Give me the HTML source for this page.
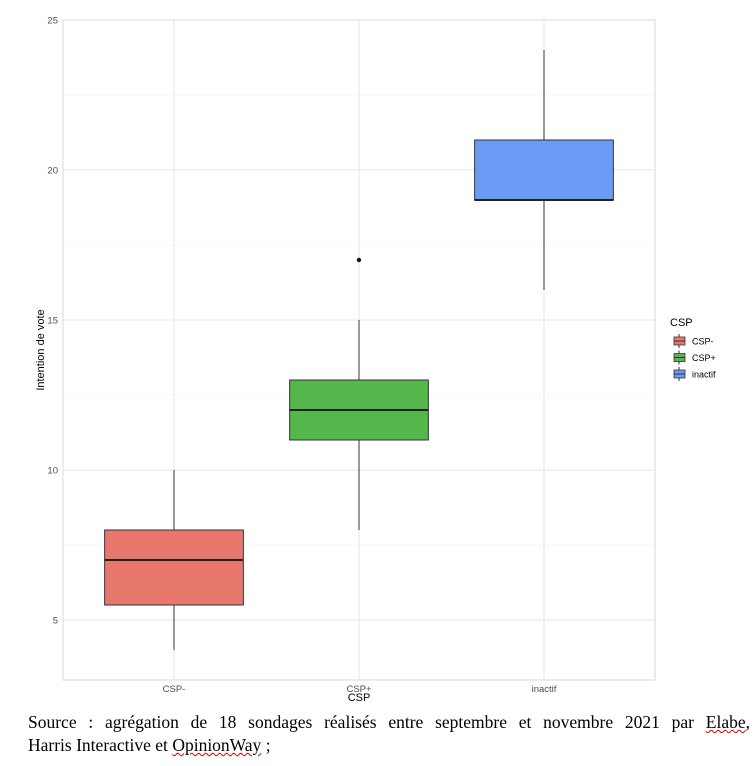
<!DOCTYPE html>
<html><head><meta charset="utf-8"><style>
body{margin:0;background:#fff;width:754px;height:766px;overflow:hidden}
svg{position:absolute;left:0;top:0}
.cap{position:absolute;left:28px;width:722px;font-family:"Liberation Serif",serif;font-size:17.5px;line-height:23px;color:#000;white-space:nowrap}
.l1{top:711px;text-align:justify;text-align-last:justify}
.l2{top:734px}
.sq{text-decoration:underline wavy #d00;text-decoration-thickness:1px}
</style></head><body>
<svg width="754" height="766" id="chart"></svg>
<div class="cap l1">Source : agrégation de 18 sondages réalisés entre septembre et novembre 2021 par <span class="sq">Elabe</span>,</div>
<div class="cap l2">Harris Interactive et <span class="sq">OpinionWay</span> ;</div>
<script>
const categories=["CSP-","CSP+","inactif"];
const lowWhisker=[4,8,16];
const q1=[5.5,11,19];
const median=[7,12,19];
const q3=[8,13,21];
const highWhisker=[10,15,24];
const outliers=[[],[17],[]];
const colors=["#E8786E","#53B74C","#6A9CF7"];
const yTicks=[5,10,15,20,25];
const NS="http://www.w3.org/2000/svg";
const svg=document.getElementById('chart');
const L=63,R=655,T=20,B=680,ymin=3,ymax=25;
const y=v=>T+(ymax-v)*(B-T)/(ymax-ymin);
const unit=(R-L)/(categories.length-1+1.2);
const x=i=>L+unit*(i+0.6);
const bw=unit*0.75;
function el(t,a,p){const e=document.createElementNS(NS,t);for(const k in a)e.setAttribute(k,a[k]);(p||svg).appendChild(e);return e;}
for(let v=7.5;v<25;v+=5){const g=el('line',{x1:L,x2:R,y1:y(v),y2:y(v),stroke:'#f0f0f0','stroke-width':0.6});

}
yTicks.forEach(v=>{const g=el('line',{x1:L,x2:R,y1:y(v),y2:y(v),stroke:'#e6e6e6','stroke-width':1});


const t=el('text',{x:L-5,y:y(v)+3.5,'text-anchor':'end','font-size':9.5,fill:'#4d4d4d','font-family':'Liberation Sans,sans-serif'});t.textContent=v;

});
categories.forEach((c,i)=>{const g=el('line',{x1:x(i),x2:x(i),y1:T,y2:B,stroke:'#e6e6e6','stroke-width':1});


const t=el('text',{x:x(i),y:B+12,'text-anchor':'middle','font-size':9.5,fill:'#4d4d4d','font-family':'Liberation Sans,sans-serif'});t.textContent=c;

});
const fr=el('rect',{x:L,y:T,width:R-L,height:B-T,fill:'none',stroke:'#d9d9d9','stroke-width':1});


categories.forEach((c,i)=>{
const g=el('g',{});


el('line',{x1:x(i),x2:x(i),y1:y(highWhisker[i]),y2:y(lowWhisker[i]),stroke:'#333','stroke-width':1},g);
el('rect',{x:x(i)-bw/2,y:y(q3[i]),width:bw,height:y(q1[i])-y(q3[i]),fill:colors[i],stroke:'#333','stroke-width':1},g);
el('line',{x1:x(i)-bw/2,x2:x(i)+bw/2,y1:y(median[i]),y2:y(median[i]),stroke:'#222','stroke-width':2},g);
outliers[i].forEach(o=>{const p=el('circle',{cx:x(i),cy:y(o),r:2.2,fill:'#111'},g);

});
});
const xt=el('text',{x:(L+R)/2,y:B+21,'text-anchor':'middle','font-size':11,fill:'#000','font-family':'Liberation Sans,sans-serif'});xt.textContent='CSP';


const yt=el('text',{x:0,y:0,transform:`translate(44,${(T+B)/2}) rotate(-90)`,'text-anchor':'middle','font-size':11,fill:'#000','font-family':'Liberation Sans,sans-serif'});yt.textContent='Intention de vote';


const lt=el('text',{x:670,y:326,'font-size':11,fill:'#000','font-family':'Liberation Sans,sans-serif'});lt.textContent='CSP';


categories.forEach((c,i)=>{const yy=341+i*16.5;
const g=el('g',{});


el('line',{x1:679,x2:679,y1:yy-7,y2:yy+7,stroke:'#333','stroke-width':1},g);
el('rect',{x:674,y:yy-4,width:11,height:8,fill:colors[i],stroke:'#333','stroke-width':0.8},g);
el('line',{x1:674,x2:685,y1:yy,y2:yy,stroke:'#333','stroke-width':1},g);
const t=el('text',{x:692,y:yy+3.5,'font-size':9,fill:'#000','font-family':'Liberation Sans,sans-serif'},g);t.textContent=c;});
</script>
</body></html>
